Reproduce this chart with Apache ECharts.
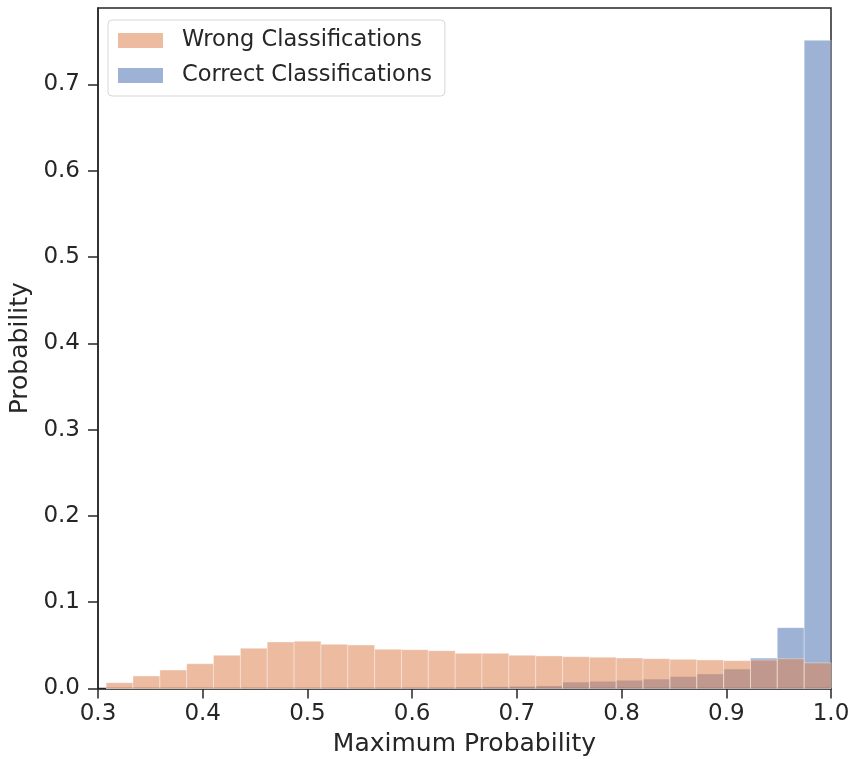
<!DOCTYPE html>
<html>
<head>
<meta charset="utf-8">
<title>Maximum Probability histogram</title>
<script src="https://cdn.jsdelivr.net/npm/echarts@6/dist/echarts.min.js"></script>
<style>
  html, body { margin: 0; padding: 0; background: #ffffff; }
  #chart { width: 862px; height: 759px; }
</style>
</head>
<body>
<div id="chart"></div>
<script>
// Histogram bin edges (27 bins between the smallest max-probability and 1.0)
const binEdges = [
  0.3078, 0.3334, 0.3591, 0.3847, 0.4103, 0.4360, 0.4616, 0.4873, 0.5129,
  0.5385, 0.5642, 0.5898, 0.6154, 0.6411, 0.6667, 0.6924, 0.7180, 0.7436,
  0.7693, 0.7949, 0.8205, 0.8462, 0.8718, 0.8975, 0.9231, 0.9487, 0.9744, 1.0000
];

// Fraction of wrong classifications per bin
const wrongValues = [
  0.0067, 0.0145, 0.0214, 0.0287, 0.0385, 0.0466, 0.0539, 0.0547, 0.0512,
  0.0504, 0.0454, 0.0450, 0.0438, 0.0408, 0.0408, 0.0385, 0.0377, 0.0368,
  0.0362, 0.0353, 0.0345, 0.0338, 0.0330, 0.0322, 0.0330, 0.0345, 0.0297
];

// Fraction of correct classifications per bin
const correctValues = [
  0.0001, 0.0001, 0.0002, 0.0002, 0.0003, 0.0003, 0.0004, 0.0005, 0.0006,
  0.0007, 0.0008, 0.0010, 0.0012, 0.0015, 0.0019, 0.0024, 0.0030, 0.0074,
  0.0083, 0.0095, 0.0109, 0.0137, 0.0168, 0.0225, 0.0352, 0.0705, 0.7510
];

const xTicks = [0.3, 0.4, 0.5, 0.6, 0.7, 0.8, 0.9, 1.0];
const yTicks = [0.0, 0.1, 0.2, 0.3, 0.4, 0.5, 0.6, 0.7];

const seriesNames = ['Wrong Classifications', 'Correct Classifications'];
const wrongColor = 'rgba(221,132,82,0.55)';
const correctColor = 'rgba(76,114,176,0.55)';
const inkColor = '#262626';
const fontFamily = '"DejaVu Sans", sans-serif';

function toBins(values) {
  return values.map((v, i) => [binEdges[i], binEdges[i + 1], v]);
}

function renderBin(params, api) {
  const topLeft = api.coord([api.value(0), api.value(2)]);
  const bottomRight = api.coord([api.value(1), 0]);
  return {
    type: 'rect',
    shape: {
      x: topLeft[0],
      y: topLeft[1],
      width: bottomRight[0] - topLeft[0],
      height: bottomRight[1] - topLeft[1]
    },
    style: {
      fill: api.visual('color'),
      stroke: 'rgba(255,255,255,0.45)',
      lineWidth: 0.8
    }
  };
}

const chart = echarts.init(document.getElementById('chart'), null, { renderer: 'canvas' });

chart.setOption({
  animation: false,
  backgroundColor: '#ffffff',
  textStyle: { fontFamily: fontFamily, color: inkColor },
  grid: {
    left: 98, right: 31, top: 8, bottom: 70.5,
    outerBoundsMode: 'none',
    containLabel: false,
    show: true, borderColor: inkColor, borderWidth: 1.5,
    backgroundColor: 'transparent'
  },
  legend: {
    data: seriesNames,
    orient: 'vertical',
    left: 108, top: 20,
    padding: [9, 13, 9, 10],
    itemGap: 12,
    itemWidth: 45, itemHeight: 15,
    icon: 'rect',
    backgroundColor: 'rgba(255,255,255,0.85)',
    borderColor: '#d6d6d6', borderWidth: 1, borderRadius: 4,
    textStyle: {
      fontFamily: fontFamily, fontSize: 22.5, color: inkColor,
      padding: [0, 0, 0, 14]
    }
  },
  xAxis: {
    type: 'value',
    min: 0.3, max: 1.0, interval: 0.1,
    name: 'Maximum Probability',
    nameLocation: 'middle', nameGap: 43,
    nameTextStyle: { fontFamily: fontFamily, fontSize: 25, color: inkColor },
    axisLine: { show: true, lineStyle: { color: inkColor, width: 1.5 } },
    axisTick: { show: true, length: 10, customValues: xTicks,
                lineStyle: { color: inkColor, width: 1.5 } },
    axisLabel: { show: true, customValues: xTicks, margin: 14,
                 fontFamily: fontFamily, fontSize: 23, color: inkColor,
                 formatter: v => v.toFixed(1) },
    splitLine: { show: false }
  },
  yAxis: {
    type: 'value',
    min: 0, max: 0.7885, interval: 0.1,
    name: 'Probability',
    nameLocation: 'middle', nameGap: 52,
    nameTextStyle: { fontFamily: fontFamily, fontSize: 25, color: inkColor },
    axisLine: { show: true, lineStyle: { color: inkColor, width: 1.5 } },
    axisTick: { show: true, length: 10, customValues: yTicks,
                lineStyle: { color: inkColor, width: 1.5 } },
    axisLabel: { show: true, customValues: yTicks, margin: 18,
                 fontFamily: fontFamily, fontSize: 23, color: inkColor,
                 formatter: v => v.toFixed(1) },
    splitLine: { show: false }
  },
  series: [
    {
      name: seriesNames[1],
      type: 'custom',
      renderItem: renderBin,
      itemStyle: { color: correctColor },
      encode: { x: [0, 1], y: 2 },
      data: toBins(correctValues),
      z: 2
    },
    {
      name: seriesNames[0],
      type: 'custom',
      renderItem: renderBin,
      itemStyle: { color: wrongColor },
      encode: { x: [0, 1], y: 2 },
      data: toBins(wrongValues),
      z: 3
    }
  ]
});
</script>
</body>
</html>
